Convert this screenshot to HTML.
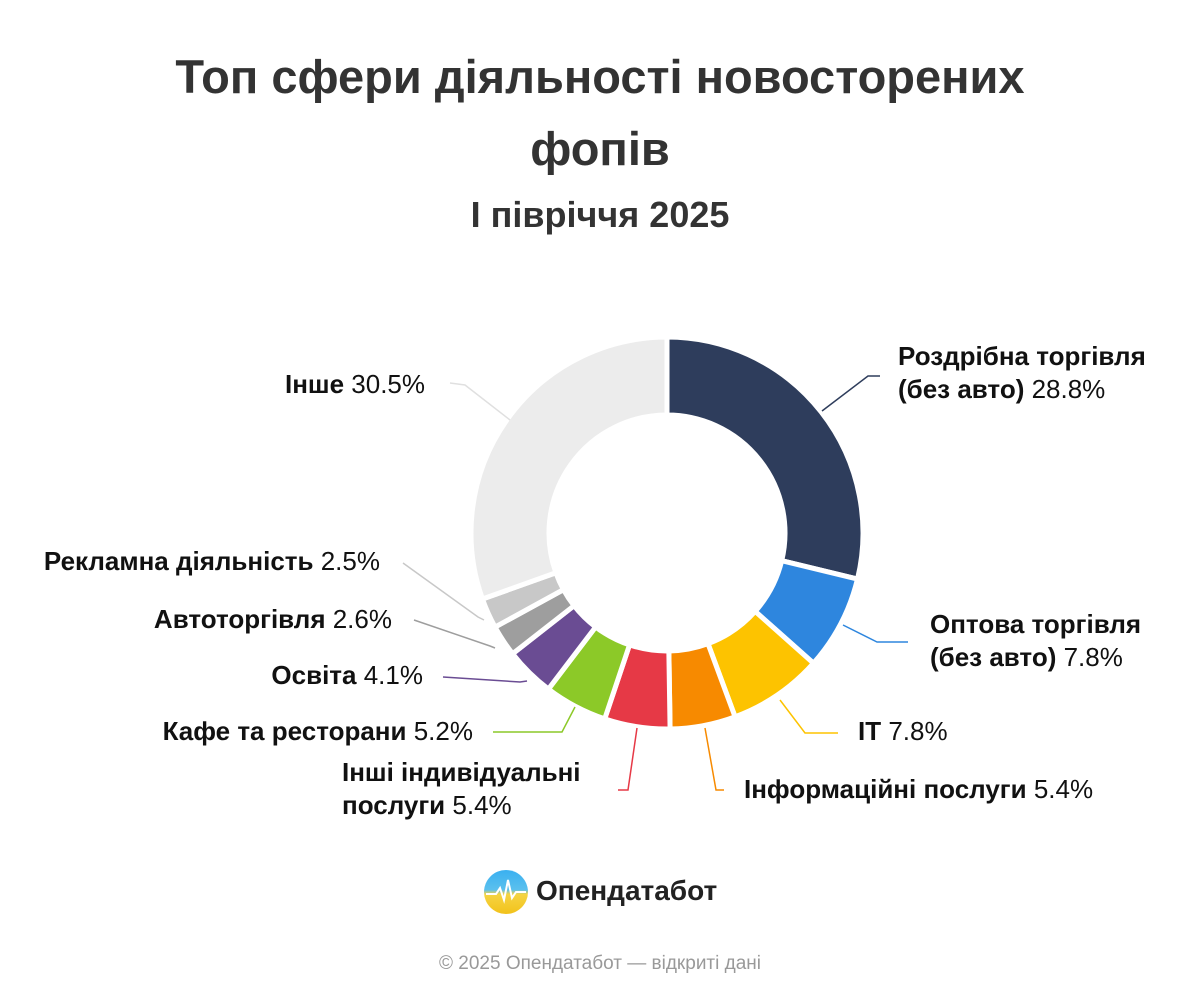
<!DOCTYPE html>
<html><head><meta charset="utf-8">
<style>
body{margin:0;width:1200px;height:1000px;background:#fff;font-family:"Liberation Sans","DejaVu Sans",sans-serif;overflow:hidden;position:relative;color:#333}
.t{position:absolute;left:0;width:1200px;text-align:center;font-weight:bold;font-size:47px;color:#333}
.l{position:absolute;font-size:26px;color:#111;line-height:33px;white-space:nowrap}
.r{text-align:right}
.l b{font-weight:bold}
</style></head><body>
<div class="t" style="top:49px">Топ сфери діяльності новосторених</div>
<div class="t" style="top:121px">фопів</div>
<div class="t" style="top:194px;font-size:36px;color:#333">І півріччя 2025</div>
<svg id="s" width="1200" height="1000" style="position:absolute;left:0;top:0"></svg>
<div class="l" style="left:898px;top:340px"><b>Роздрібна торгівля</b><br><b>(без авто)</b> 28.8%</div>
<div class="l" style="left:930px;top:608px"><b>Оптова торгівля</b><br><b>(без авто)</b> 7.8%</div>
<div class="l" style="left:858px;top:715px"><b>IT</b> 7.8%</div>
<div class="l" style="left:744px;top:773px"><b>Інформаційні послуги</b> 5.4%</div>
<div class="l" style="left:342px;top:756px"><b>Інші індивідуальні</b><br><b>послуги</b> 5.4%</div>
<div class="l r" style="right:727px;top:715px"><b>Кафе та ресторани</b> 5.2%</div>
<div class="l r" style="right:777px;top:659px"><b>Освіта</b> 4.1%</div>
<div class="l r" style="right:808px;top:603px"><b>Автоторгівля</b> 2.6%</div>
<div class="l r" style="right:820px;top:545px"><b>Рекламна діяльність</b> 2.5%</div>
<div class="l r" style="right:775px;top:368px"><b>Інше</b> 30.5%</div>
<div style="position:absolute;left:484px;top:870px;width:44px;height:44px;border-radius:50%;background:linear-gradient(180deg,#3ab0f0 0%,#5bc0ee 45%,#f5d442 55%,#f2c21b 100%)"></div>
<svg width="44" height="44" style="position:absolute;left:484px;top:870px"><polyline points="2,24 12,24 16,18 20,30 24,10 28,28 32,22 42,22" fill="none" stroke="#fff" stroke-width="2"/></svg>
<div style="position:absolute;left:536px;top:875px;font-size:28px;font-weight:bold;color:#222">Опендатабот</div>
<div style="position:absolute;left:0;width:1200px;top:953px;text-align:center;font-size:19px;color:#999">© 2025 Опендатабот — відкриті дані</div>
<script>
var s=document.getElementById('s');
var cx=667,cy=533,R=196,r=118;
var d=[[28.8,'#2e3d5c'],[7.8,'#2e86de'],[7.8,'#fdc300'],[5.4,'#f78a00'],[5.4,'#e63946'],[5.2,'#8cc928'],[4.1,'#6a4c93'],[2.6,'#9e9e9e'],[2.5,'#c8c8c8'],[30.5,'#ececec']];
var tot=0;d.forEach(function(x){tot+=x[0]});
var a=0,h='';
function p(rad,ang){return (cx+rad*Math.sin(ang)).toFixed(2)+','+(cy-rad*Math.cos(ang)).toFixed(2)}
d.forEach(function(x){
 var b=a+x[0]/tot*2*Math.PI,lg=(b-a)>Math.PI?1:0;
 h+='<path d="M'+p(R,a)+' A'+R+','+R+' 0 '+lg+' 1 '+p(R,b)+' L'+p(r,b)+' A'+r+','+r+' 0 '+lg+' 0 '+p(r,a)+' Z" fill="'+x[1]+'" stroke="#fff" stroke-width="5" stroke-linejoin="round"/>';
 a=b;});
var L=[['822,411 868,376 880,376','#2e3d5c'],['843,625 877,642 908,642','#2e86de'],['780,700 805,733 838,733','#fdc300'],['705,728 716,790 724,790','#f78a00'],['637,728 628,790 618,790','#e63946'],['575,707 562,732 493,732','#8cc928'],['527,681 520,682 443,677','#6a4c93'],['495,648 490,646 414,620','#9e9e9e'],['484,620 478,617 403,563','#c8c8c8'],['510,420 465,385 450,383','#e0e0e0']];
L.forEach(function(l){h+='<polyline points="'+l[0]+'" fill="none" stroke="'+l[1]+'" stroke-width="1.5"/>'});
s.innerHTML=h;
</script>
</body></html>
